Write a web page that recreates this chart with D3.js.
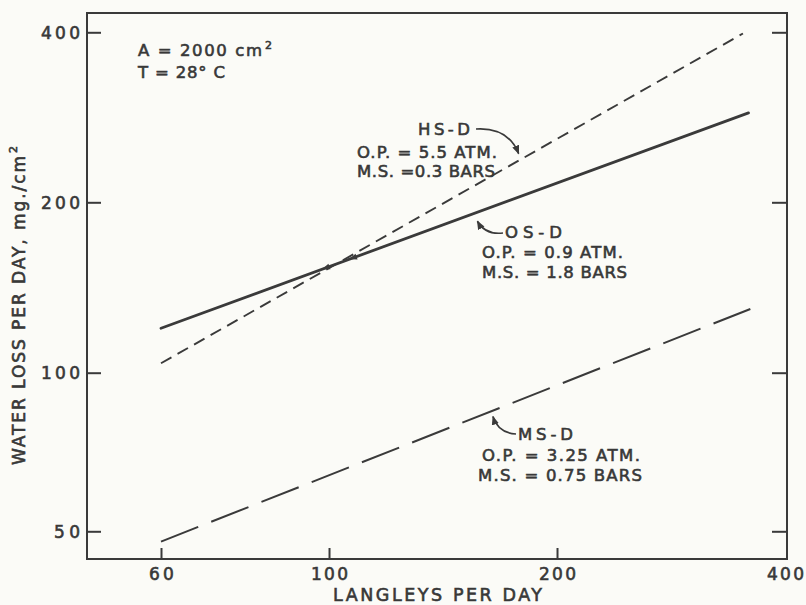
<!DOCTYPE html>
<html>
<head>
<meta charset="utf-8">
<script src="https://cdn.jsdelivr.net/npm/d3@7"></script>
<style>
  html, body { margin: 0; padding: 0; background: #fbfbf7; }
  svg { display: block; }
  text { font-family: "DejaVu Sans", sans-serif; fill: #383838; stroke: #383838; stroke-width: 0.6px; }
</style>
</head>
<body>
<svg id="chart" width="806" height="605"></svg>
<script>
// Tick values for the two logarithmic axes
const xTickValues = [60, 100, 200, 400];
const yTickValues = [50, 100, 200, 400];

// Water loss (mg/cm² per day) against radiation (langleys per day): line end points
const hsD = [[60, 103.9], [352, 398]];
const osD = [[60, 119.8], [358, 288]];
const msD = [[60, 47.8], [360, 129.6]];

// Label text for each line
const hsLabel = ["HS-D", "O.P. = 5.5 ATM.", "M.S. =0.3 BARS"];
const osLabel = ["OS-D", "O.P. = 0.9 ATM.", "M.S. = 1.8 BARS"];
const msLabel = ["MS-D", "O.P. = 3.25 ATM.", "M.S. = 0.75 BARS"];
const conditions = ["A = 2000 cm", "T = 28° C"];

const INK = "#3a3a3a";
const svg = d3.select("#chart");

// Frame of the plotting area
const frame = { left: 87, top: 13, right: 787, bottom: 559 };

const x = d3.scaleLog().domain([60, 400]).range([161, 785]);
// log scale drawn in pieces, one per octave of the printed grid
const y = d3.scaleLog().domain([50, 100, 200, 400]).range([531.3, 372.7, 202.3, 32.3]);

const defs = svg.append("defs");
defs.append("marker")
  .attr("id", "head")
  .attr("viewBox", "0 0 10 10")
  .attr("refX", 9).attr("refY", 5)
  .attr("markerWidth", 9).attr("markerHeight", 9)
  .attr("markerUnits", "userSpaceOnUse")
  .attr("orient", "auto")
  .append("path")
  .attr("d", "M0,1 L10,5 L0,9 Z")
  .attr("fill", INK);

// Frame
svg.append("rect")
  .attr("x", frame.left).attr("y", frame.top)
  .attr("width", frame.right - frame.left).attr("height", frame.bottom - frame.top)
  .attr("fill", "none").attr("stroke", INK).attr("stroke-width", 2);

// Left axis: inward ticks with labels
const gLeft = svg.append("g").attr("transform", `translate(${frame.left},0)`)
  .call(d3.axisLeft(y).tickValues(yTickValues).tickFormat(d3.format("d"))
    .tickSizeInner(-14).tickSizeOuter(0).tickPadding(7));
// Right axis: inward ticks only
const gRight = svg.append("g").attr("transform", `translate(${frame.right},0)`)
  .call(d3.axisRight(y).tickValues(yTickValues).tickFormat("")
    .tickSizeInner(-15).tickSizeOuter(0));
// Bottom axis: inward ticks with labels
const gBottom = svg.append("g").attr("transform", `translate(0,${frame.bottom})`)
  .call(d3.axisBottom(x).tickValues(xTickValues).tickFormat(d3.format("d"))
    .tickSizeInner(-11).tickSizeOuter(0).tickPadding(8));

[gLeft, gRight, gBottom].forEach(g => {
  g.select(".domain").remove();
  g.selectAll("line").attr("stroke", INK).attr("stroke-width", 2);
  g.selectAll("text").attr("font-size", 17).attr("fill", INK)
    .style("font-family", "'DejaVu Sans', sans-serif");
});
gLeft.selectAll("text").attr("dy", "0.36em")
  .attr("textLength", d => String(d).length * 13).attr("lengthAdjust", "spacing");
gBottom.selectAll("text").attr("dy", "0.76em")
  .attr("textLength", d => String(d).length * 12.4).attr("lengthAdjust", "spacing");
gBottom.selectAll(".tick").filter(d => d === 400).select("line").remove();

// Lines
const line = d3.line().x(d => x(d[0])).y(d => y(d[1]));
svg.append("path").datum(hsD).attr("d", line)
  .attr("fill", "none").attr("stroke", INK).attr("stroke-width", 1.9)
  .attr("stroke-dasharray", "12 7");
svg.append("path").datum(osD).attr("d", line)
  .attr("fill", "none").attr("stroke", INK).attr("stroke-width", 2.8)
  .attr("stroke-linecap", "round");
svg.append("path").datum(msD).attr("d", line)
  .attr("fill", "none").attr("stroke", INK).attr("stroke-width", 2)
  .attr("stroke-dasharray", "40 14");

// Point on a drawn line at a given x value
function pointOn(series, xv) {
  const x0 = x(series[0][0]), x1 = x(series[1][0]);
  const y0 = y(series[0][1]), y1 = y(series[1][1]);
  const px = x(xv);
  const t = (px - x0) / (x1 - x0);
  return [px, y0 + t * (y1 - y0)];
}

// Small arrowheads where the solid and short-dash lines cross
[99, 107.5].forEach(xv => {
  const [px, py] = pointOn(osD, xv);
  const ang = Math.atan2(y(osD[1][1]) - y(osD[0][1]), x(osD[1][0]) - x(osD[0][0])) * 180 / Math.PI;
  svg.append("path")
    .attr("d", "M-4,0 L4,-3 L4,3 Z")
    .attr("fill", INK)
    .attr("transform", `translate(${px},${py}) rotate(${ang})`);
});

// Text lines with fixed widths
function label(str, xs, yb, width, size) {
  return svg.append("text")
    .attr("x", xs).attr("y", yb)
    .attr("font-size", size || 16.5)
    .attr("textLength", width).attr("lengthAdjust", "spacing")
    .text(str);
}

// Conditions block
label(conditions[0], 138, 56, 124);
svg.append("text").attr("x", 265).attr("y", 49).attr("font-size", 11).text("2");
label(conditions[1], 138, 78, 87);

// Line labels
label(hsLabel[0], 418, 135, 52);
label(hsLabel[1], 357, 158, 140);
label(hsLabel[2], 357, 177, 138);

label(osLabel[0], 505, 238, 57);
label(osLabel[1], 482, 258, 141);
label(osLabel[2], 482, 278, 145);

label(msLabel[0], 518, 440, 55);
label(msLabel[1], 482, 461, 158);
label(msLabel[2], 478, 481, 164);

// Curved pointer arrows from labels to their lines
function arrow(from, ctrl, to) {
  svg.append("path")
    .attr("d", `M${from[0]},${from[1]} Q${ctrl[0]},${ctrl[1]} ${to[0]},${to[1]}`)
    .attr("fill", "none").attr("stroke", INK).attr("stroke-width", 1.7)
    .attr("marker-end", "url(#head)");
}
{
  const t = pointOn(hsD, 178); t[1] -= 7;
  arrow([476, 129], [508, 127], t);
}
{
  const t = pointOn(osD, 157); t[1] += 9;
  arrow([503, 233], [485, 235], t);
}
{
  const t = pointOn(msD, 164.6); t[1] += 6;
  arrow([516, 434], [498, 433], t);
}

// Axis titles
label("LANGLEYS PER DAY", 333, 601, 209, 17.5);
const yTitle = svg.append("g").attr("transform", "translate(25,465) rotate(-90)");
yTitle.append("text").attr("x", 0).attr("y", 0).attr("font-size", 17)
  .attr("textLength", 309).attr("lengthAdjust", "spacing")
  .text("WATER LOSS PER DAY, mg./cm");
yTitle.append("text").attr("x", 312).attr("y", -8).attr("font-size", 11).text("2");
</script>
</body>
</html>
